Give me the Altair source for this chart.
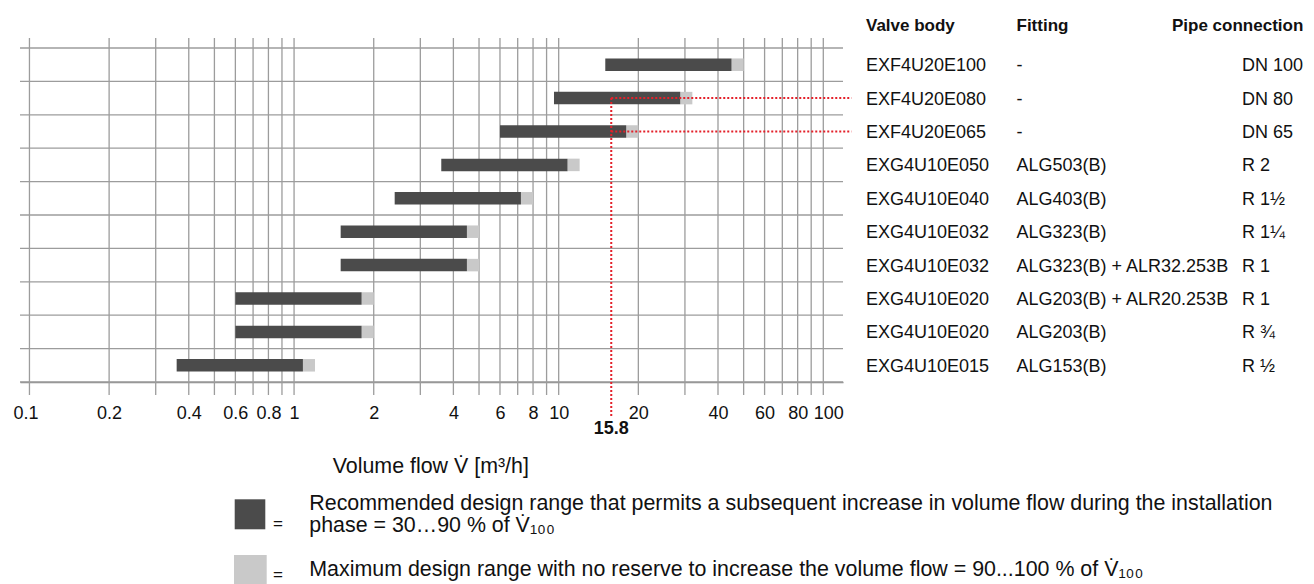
import altair as alt
import pandas as pd

# ---- data ----
valve = ["EXF4U20E100", "EXF4U20E080", "EXF4U20E065", "EXG4U10E050", "EXG4U10E040",
         "EXG4U10E032", "EXG4U10E032", "EXG4U10E020", "EXG4U10E020", "EXG4U10E015"]
fitting = ["-", "-", "-", "ALG503(B)", "ALG403(B)", "ALG323(B)",
           "ALG323(B) + ALR32.253B", "ALG203(B) + ALR20.253B", "ALG203(B)", "ALG153(B)"]
pipe = ["DN 100", "DN 80", "DN 65", "R 2", "R 1½", "R 1¼", "R 1", "R 1", "R ¾", "R ½"]
v30 = [15, 9.6, 6, 3.6, 2.4, 1.5, 1.5, 0.6, 0.6, 0.36]
v90 = [45, 28.8, 18, 10.8, 7.2, 4.5, 4.5, 1.8, 1.8, 1.08]
v100 = [50, 32, 20, 12, 8, 5, 5, 2, 2, 1.2]

grid_vals = [0.1, 0.2, 0.3, 0.4, 0.5, 0.6, 0.7, 0.8, 0.9,
             1, 2, 3, 4, 5, 6, 7, 8, 9,
             10, 20, 30, 40, 50, 60, 70, 80, 90, 100]
label_vals = [0.1, 0.2, 0.4, 0.6, 0.8, 1, 2, 4, 6, 8, 10, 20, 40, 60, 80, 100]
row_lines = list(range(11))

design_flow = 15.8
marked_rows = [1, 2]

headers = ["Valve body", "Fitting", "Pipe connection"]
x_title = "Volume flow V\u0307 [m³/h]"
legend1a = "Recommended design range that permits a subsequent increase in volume flow during the installation"
legend1b = "phase = 30…90 % of V\u0307₁₀₀"
legend2 = "Maximum design range with no reserve to increase the volume flow = 90...100 % of V\u0307₁₀₀"

# ---- layout / style ----
W, H = 823, 334
FONT = "Liberation Sans"
FS = 18
LFS = 21.4
DARK = "#4b4b4b"
LIGHT = "#c9c9c9"
GRID = "#9c9c9c"
RED = "#e3202a"

rows = pd.DataFrame({"i": list(range(10)), "valve": valve, "fitting": fitting,
                     "pipe": pipe, "v30": v30, "v90": v90, "v100": v100})

xs = alt.Scale(type="log", domain=[0.0921, 118.7], nice=False)
ys = alt.Scale(domain=[0, 10], reverse=True, nice=False, zero=False)

vgrid = alt.Chart(pd.DataFrame({"g": grid_vals})).mark_rule(
    color=GRID, strokeWidth=1.3
).encode(
    x=alt.X("g:Q", scale=xs,
            axis=alt.Axis(values=label_vals, format="~g", grid=False, ticks=False,
                          tickSize=0, domainColor="#8a8a8a", domainWidth=1.6,
                          labelPadding=22, labelFontSize=FS, labelFont=FONT,
                          labelColor="#111", title=None, labelFlush=False,
                          labelOffset={"condition": [
                              {"test": "datum.value <= 0.1", "value": -4},
                              {"test": "datum.value >= 100", "value": 5}],
                              "value": 0})),
    y=alt.value(-10), y2=alt.value(H + 13),
)

hgrid = alt.Chart(pd.DataFrame({"b": row_lines})).mark_rule(
    color=GRID, strokeWidth=1.3
).encode(
    x=alt.value(0), x2=alt.value(W),
    y=alt.Y("b:Q", scale=ys, axis=None),
)

base = alt.Chart(rows).transform_calculate(yc="datum.i + 0.5")
yenc = alt.Y("yc:Q", scale=ys, axis=None)

dark = base.mark_rule(color=DARK, strokeWidth=12.5, strokeCap="butt").encode(
    x=alt.X("v30:Q", scale=xs), x2="v90:Q", y=yenc)
light = base.mark_rule(color=LIGHT, strokeWidth=12.5, strokeCap="butt").encode(
    x=alt.X("v90:Q", scale=xs), x2="v100:Q", y=yenc)

txt = dict(align="left", baseline="middle", fontSize=FS, font=FONT, color="#111", dy=1.5)
t_valve = base.mark_text(**txt).encode(x=alt.value(846), y=yenc, text="valve:N")
t_fit = base.mark_text(**txt).encode(x=alt.value(996.5), y=yenc, text="fitting:N")
t_pipe = base.mark_text(**txt).encode(x=alt.value(1222), y=yenc, text="pipe:N")

hdr = alt.Chart(pd.DataFrame({"h": headers, "px": [846, 996.5, 1152]})).mark_text(
    align="left", baseline="middle", fontSize=17, font=FONT, fontWeight="bold", color="#111"
).encode(x=alt.X("px:Q", scale=None), y=alt.value(-22.5), text="h:N")

red_df = pd.DataFrame({"v": [design_flow] * len(marked_rows), "r": marked_rows})
red_base = alt.Chart(red_df).transform_calculate(yc="datum.r + 0.5")
red_h = red_base.mark_rule(color=RED, strokeWidth=2, strokeDash=[2, 2]).encode(
    x=alt.X("v:Q", scale=xs), x2=alt.value(831.5), y=yenc)
red_v = red_base.transform_filter("datum.r == 1").mark_rule(
    color=RED, strokeWidth=2, strokeDash=[2, 2]
).encode(x=alt.X("v:Q", scale=xs), y=yenc, y2=alt.value(370))
red_lbl = alt.Chart(pd.DataFrame({"v": [design_flow]})).mark_text(
    baseline="middle", fontSize=FS, font=FONT, fontWeight="bold", color="#111"
).encode(x=alt.X("v:Q", scale=xs), y=alt.value(380.5), text=alt.Text("v:Q", format=".1f"))

# legend / title texts
lt = alt.Chart(pd.DataFrame({
    "t": [x_title, legend1a, legend1b, legend2],
    "px": [312.7, 289.3, 289.3, 289.3],
    "py": [419, 456, 478, 522],
})).mark_text(align="left", baseline="middle", fontSize=LFS, font=FONT, color="#111").encode(
    x=alt.X("px:Q", scale=None), y=alt.Y("py:Q", scale=None), text="t:N")

eq = alt.Chart(pd.DataFrame({"t": ["=", "="], "px": [253, 253], "py": [476, 527]})).mark_text(
    align="left", baseline="middle", fontSize=17, font=FONT, color="#111").encode(
    x=alt.X("px:Q", scale=None), y=alt.Y("py:Q", scale=None), text="t:N")

sw = alt.Chart(pd.DataFrame({
    "c": [DARK, LIGHT], "x0": [214.7, 214], "x1": [245.3, 246.7], "y0": [451.3, 507], "y1": [481.3, 545],
})).mark_rect().encode(
    x=alt.X("x0:Q", scale=None), x2="x1:Q", y=alt.Y("y0:Q", scale=None), y2="y1:Q",
    color=alt.Color("c:N", scale=None))

chart = alt.layer(
    vgrid, hgrid, light, dark, red_h, red_v, red_lbl,
    t_valve, t_fit, t_pipe, hdr, lt, eq, sw
).properties(
    width=W, height=H,
    autosize=alt.AutoSizeParams(type="none"),
    padding={"left": 12, "top": 40, "right": 463, "bottom": 204},
).configure_view(stroke=None)

chart.save("out.html", embed_options={"renderer": "svg", "actions": False})
